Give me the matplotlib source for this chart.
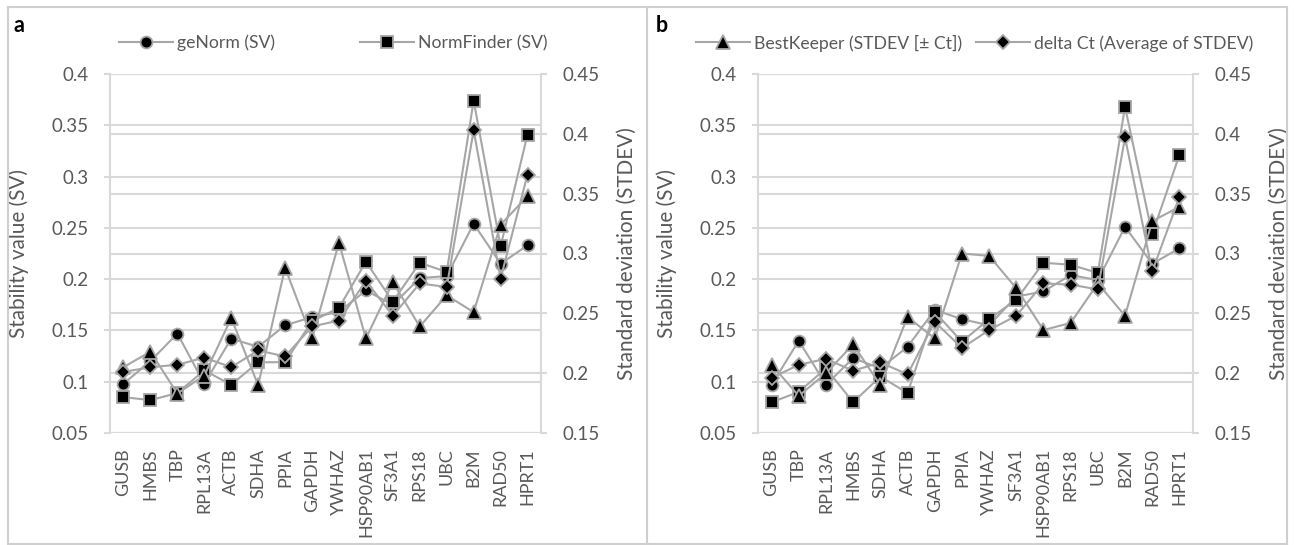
import matplotlib.pyplot as plt
from matplotlib.lines import Line2D

plt.rcParams['font.family'] = ['Lato', 'DejaVu Sans']

# panel a
genes_a = ["GUSB", "HMBS", "TBP", "RPL13A", "ACTB", "SDHA", "PPIA", "GAPDH",
           "YWHAZ", "HSP90AB1", "SF3A1", "RPS18", "UBC", "B2M", "RAD50", "HPRT1"]
genorm_a = [0.098, 0.120, 0.147, 0.098, 0.142, 0.134, 0.155, 0.163,
            0.168, 0.189, 0.175, 0.201, 0.203, 0.254, 0.215, 0.233]
normfinder_a = [0.085, 0.082, 0.089, 0.111, 0.097, 0.119, 0.119, 0.159,
                0.172, 0.217, 0.178, 0.216, 0.207, 0.374, 0.232, 0.341]
bestkeeper_a = [0.205, 0.218, 0.183, 0.198, 0.246, 0.190, 0.288, 0.229,
                0.309, 0.229, 0.276, 0.239, 0.265, 0.251, 0.324, 0.348]
deltact_a = [0.201, 0.205, 0.207, 0.213, 0.205, 0.219, 0.214, 0.239,
             0.244, 0.277, 0.248, 0.275, 0.272, 0.403, 0.279, 0.366]

# panel b
genes_b = ["GUSB", "TBP", "RPL13A", "HMBS", "SDHA", "ACTB", "GAPDH", "PPIA",
           "YWHAZ", "SF3A1", "HSP90AB1", "RPS18", "UBC", "B2M", "RAD50", "HPRT1"]
genorm_b = [0.097, 0.140, 0.097, 0.123, 0.113, 0.134, 0.170, 0.161,
            0.155, 0.183, 0.188, 0.204, 0.199, 0.251, 0.215, 0.230]
normfinder_b = [0.080, 0.090, 0.113, 0.080, 0.105, 0.089, 0.168, 0.139,
                0.161, 0.180, 0.216, 0.214, 0.206, 0.368, 0.244, 0.321]
bestkeeper_b = [0.207, 0.181, 0.200, 0.224, 0.190, 0.247, 0.229, 0.300,
                0.298, 0.271, 0.236, 0.242, 0.275, 0.248, 0.327, 0.339]
deltact_b = [0.196, 0.207, 0.212, 0.202, 0.209, 0.199, 0.243, 0.221,
             0.236, 0.248, 0.275, 0.274, 0.270, 0.397, 0.285, 0.347]

left_ticks = [0.05, 0.1, 0.15, 0.2, 0.25, 0.3, 0.35, 0.4]
right_ticks = [0.15, 0.2, 0.25, 0.3, 0.35, 0.4, 0.45]

GRID = "#d9d9d9"
TXT = "#595959"
LINE = "#a6a6a6"
W, H = 1294, 545

fig = plt.figure(figsize=(W / 100, H / 100), dpi=100)
renderer = fig.canvas.get_renderer()


def fit_size(s, target_px):
    # font size that makes s about target_px wide
    t = fig.text(0, 0, s, fontsize=10)
    w = t.get_window_extent(renderer=renderer).width
    t.remove()
    return 10 * target_px / w


TICK_FS = fit_size("0.35", 37)
XT_FS = fit_size("HSP90AB1", 89)
LEG_FS = fit_size("geNorm (SV)", 98)
LAB_FS = fit_size("Stability value (SV)", 169)
LEG_PX = LEG_FS * 100 / 72


def to_left(v):
    # right axis value -> left axis value (0.15..0.45 onto 0.05..0.4)
    return 0.05 + (v - 0.15) * 0.35 / 0.30


def panel(x0, x1, genes, gn, nf, bk, dc, letter, letter_x, leg_x, colspace_px, leg_which):
    ax1 = fig.add_axes([x0 / W, (H - 433) / H, (x1 - x0) / W, 359 / H])
    ax2 = ax1.twinx()
    x = range(len(genes))

    # gridlines behind everything
    for t in left_ticks:
        ax1.axhline(t, color=GRID, lw=1.5, zorder=0)
    for t in right_ticks:
        ax1.axhline(to_left(t), color=GRID, lw=1.5, zorder=0)

    mk = dict(color=LINE, lw=1.5, mfc="black", mec=LINE, mew=1.3)
    l1, = ax1.plot(x, gn, marker="o", ms=8.5, label="geNorm (SV)", **mk)
    l2, = ax1.plot(x, nf, marker="s", ms=8, label="NormFinder (SV)", **mk)
    l3, = ax2.plot(x, bk, marker="^", ms=9.5, label="BestKeeper (STDEV [\u00b1 Ct])", **mk)
    l4, = ax2.plot(x, dc, marker="D", ms=7, label="delta Ct (Average of STDEV)", **mk)

    ax1.set_xlim(-0.5, len(genes) - 0.5)
    ax1.set_ylim(0.05, 0.4)
    ax2.set_ylim(0.15, 0.45)
    ax1.set_yticks(left_ticks)
    ax1.set_yticklabels([f"{t:g}" for t in left_ticks])
    ax2.set_yticks(right_ticks)
    ax2.set_yticklabels([f"{t:g}" for t in right_ticks])
    ax1.set_xticks(list(x))
    ax1.set_xticklabels(genes, rotation=90)

    for a in (ax1, ax2):
        for s in a.spines.values():
            s.set_visible(False)
    ax1.spines["left"].set_visible(True)
    ax1.spines["left"].set_color(GRID)
    ax1.spines["left"].set_linewidth(1.5)
    ax2.spines["right"].set_visible(True)
    ax2.spines["right"].set_color(GRID)
    ax2.spines["right"].set_linewidth(1.5)

    ax1.tick_params(axis="y", length=4.5, width=1.5, color=GRID, labelcolor=TXT,
                    labelsize=TICK_FS, pad=11)
    ax2.tick_params(axis="y", length=4.5, width=1.5, color=GRID, labelcolor=TXT,
                    labelsize=TICK_FS, pad=11)
    ax1.tick_params(axis="x", length=0, labelcolor=TXT, labelsize=XT_FS, pad=11)

    ax1.set_ylabel("Stability value (SV)", color=TXT, fontsize=LAB_FS)
    ax2.set_ylabel("Standard deviation (STDEV)", color=TXT, fontsize=LAB_FS)
    wpx = x1 - x0
    ax1.yaxis.set_label_coords(-81 / wpx, 0.5)
    ax2.yaxis.set_label_coords((wpx + 76) / wpx, 0.5)

    handles = [l1, l2] if leg_which == "a" else [l3, l4]
    fig.legend(handles=handles, loc="center left",
               bbox_to_anchor=(leg_x / W, 1 - 43 / H), ncol=2, frameon=False,
               fontsize=LEG_FS, labelcolor=TXT, handlelength=54 / LEG_PX,
               handletextpad=4 / LEG_PX, columnspacing=colspace_px / LEG_PX,
               borderpad=0, borderaxespad=0, numpoints=1)

    fig.text(letter_x / W, 1 - 26 / H, letter, fontsize=15.5, fontweight="bold",
             va="center", ha="left", color="black")


panel(110, 541, genes_a, genorm_a, normfinder_a, bestkeeper_a, deltact_a,
      "a", 14, 119, 85, "a")
panel(758, 1193, genes_b, genorm_b, normfinder_b, bestkeeper_b, deltact_b,
      "b", 656, 696, 14, "b")

# outer frame and divider
frame = dict(color="#cfcfcf", lw=1.5, transform=fig.transFigure)
fig.add_artist(Line2D([8 / W, 1287 / W], [1 - 7 / H, 1 - 7 / H], **frame))
fig.add_artist(Line2D([8 / W, 1287 / W], [1 / H, 1 / H], **frame))
fig.add_artist(Line2D([8 / W, 8 / W], [1 / H, 1 - 7 / H], **frame))
fig.add_artist(Line2D([1287 / W, 1287 / W], [1 / H, 1 - 7 / H], **frame))
fig.add_artist(Line2D([647 / W, 647 / W], [1 / H, 1 - 7 / H], **frame))

plt.savefig("out.png", dpi=100)
